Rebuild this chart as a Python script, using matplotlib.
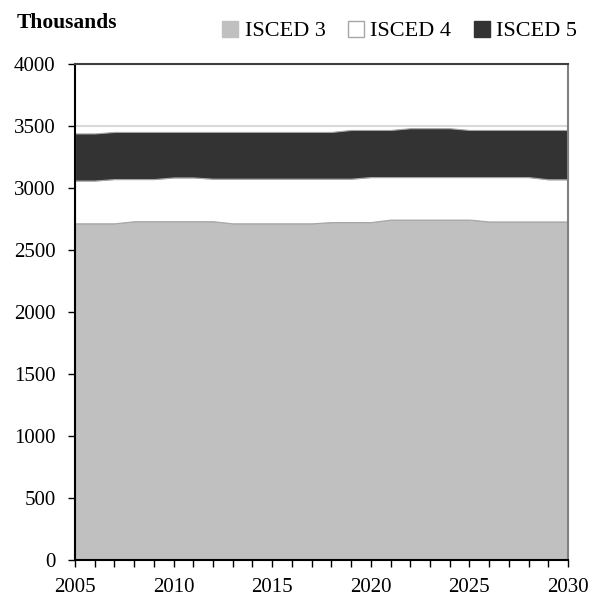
import numpy as np
import matplotlib
matplotlib.use("Agg")
import matplotlib.pyplot as plt
from matplotlib.patches import Patch

plt.rcParams['font.family'] = ['Liberation Serif', 'DejaVu Serif']

years = list(range(2005, 2031))
isced3 = [2715, 2715, 2715, 2732, 2732, 2732, 2732, 2732, 2715, 2715,
          2715, 2715, 2715, 2725, 2725, 2725, 2745, 2745, 2745, 2745,
          2745, 2730, 2730, 2730, 2730, 2730]
isced4 = [345, 345, 357, 340, 340, 353, 353, 343, 360, 360,
          360, 360, 360, 350, 350, 363, 343, 343, 343, 343,
          343, 358, 358, 358, 340, 340]
isced5 = [380, 380, 380, 380, 380, 367, 367, 377, 377, 377,
          377, 377, 377, 377, 393, 380, 380, 394, 394, 394,
          380, 380, 380, 380, 398, 398]

labels = ['ISCED 3', 'ISCED 4', 'ISCED 5']
colors = ['#c0c0c0', '#ffffff', '#333333']

fig = plt.figure(figsize=(5.94, 5.99), dpi=100)
ax = fig.add_axes([0.1263, 0.0651, 0.8299, 0.8281])

ax.set_axisbelow(True)
ax.yaxis.grid(True, color='#d9d9d9', linewidth=1.5)
ax.stackplot(years, isced3, isced4, isced5, colors=colors,
             edgecolor='#a6a6a6', linewidth=0.8, zorder=2)

ax.set_xlim(2005, 2030)
ax.set_ylim(0, 4000)
ax.set_xticks(range(2005, 2031, 5))
ax.set_xticks(years, minor=True)
ax.set_yticks(range(0, 4001, 500))
ax.tick_params(axis='both', which='both', direction='out', length=5, width=1,
               labelsize=15, color='black')
ax.tick_params(axis='y', pad=9)
ax.tick_params(axis='x', pad=8)

ax.spines['left'].set_color('black')
ax.spines['bottom'].set_color('black')
ax.spines['top'].set_color('#404040')
ax.spines['right'].set_color('#808080')
for s in ax.spines.values():
    s.set_linewidth(1.5)

fig.text(0.028, 0.962, 'Thousands', fontsize=15.5, fontweight='bold',
         va='center', ha='left')

handles = [Patch(facecolor=c, edgecolor='#a6a6a6' if c == '#ffffff' else c)
           for c in colors]
fig.legend(handles, labels, ncol=3, loc='center right',
           bbox_to_anchor=(0.972, 0.948), frameon=False, fontsize=16,
           handlelength=0.72, handleheight=0.72, handletextpad=0.3,
           columnspacing=1.0, borderaxespad=0, borderpad=0)

fig.savefig('out.png', dpi=100)
